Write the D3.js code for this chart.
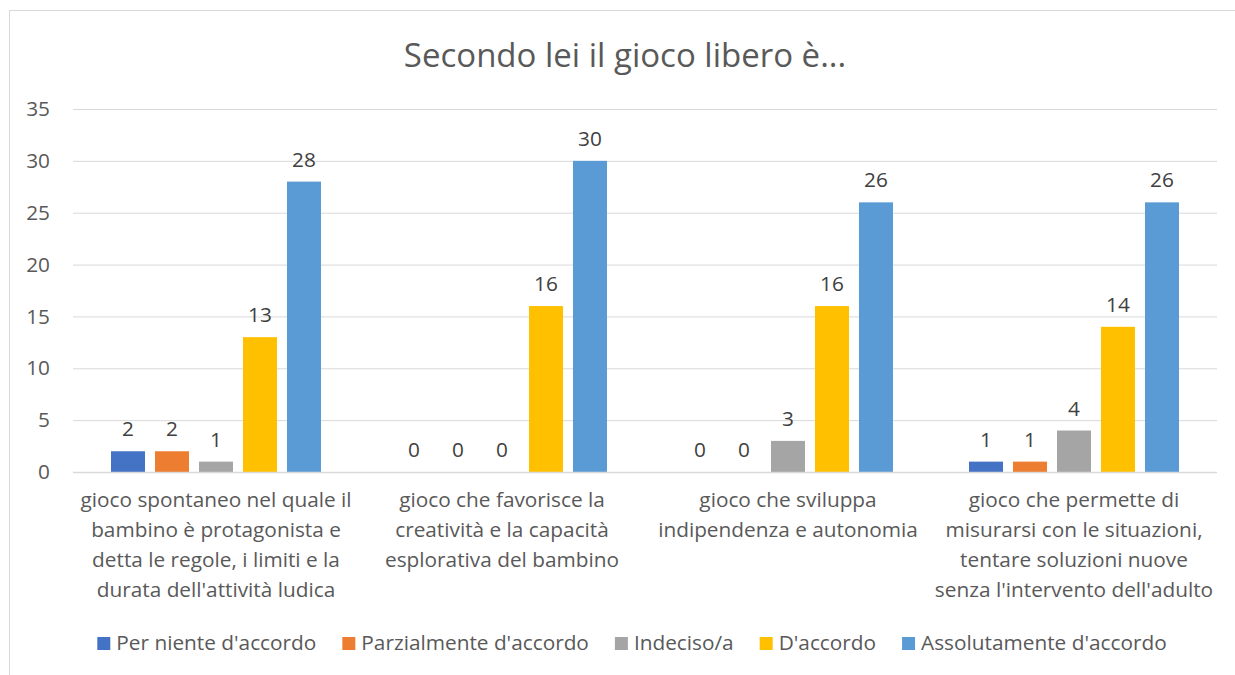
<!DOCTYPE html>
<html>
<head>
<meta charset="utf-8">
<script src="https://cdn.jsdelivr.net/npm/d3@7"></script>
<style>
	body { margin: 0; background: #fff; }
	text { font-family: "Open Sans", sans-serif; fill: #595959; }
</style>
</head>
<body>
<div id="viz"></div>
<script>
var title = "Secondo lei il gioco libero è...";

var categories = [
	["gioco spontaneo nel quale il", "bambino è protagonista e", "detta le regole, i limiti e la", "durata dell'attività ludica"],
	["gioco che favorisce la", "creatività e la capacità", "esplorativa del bambino"],
	["gioco che sviluppa", "indipendenza e autonomia"],
	["gioco che permette di", "misurarsi con le situazioni,", "tentare soluzioni nuove", "senza l'intervento dell'adulto"]
];

var seriesNames = ["Per niente d'accordo", "Parzialmente d'accordo", "Indeciso/a", "D'accordo", "Assolutamente d'accordo"];
var seriesColors = ["#4472C4", "#ED7D31", "#A5A5A5", "#FFC000", "#5B9BD5"];

// one array per series, in category order
var perNiente = [2, 0, 0, 1];
var parzialmente = [2, 0, 0, 1];
var indeciso = [1, 0, 3, 4];
var daccordo = [13, 16, 16, 14];
var assolutamente = [28, 30, 26, 26];

var yTicks = [0, 5, 10, 15, 20, 25, 30, 35];

buildViz();

function buildViz(){

	var width = 1235,
			height = 675,
			plotLeft = 73,
			plotRight = 1217,
			plotTop = 109,
			plotBottom = 472,
			fontSize = '20.8px';

	var seriesValues = [perNiente, parzialmente, indeciso, daccordo, assolutamente];

	var svg = d3.select('#viz')
		.append('svg')
		.attr('width', width)
		.attr('height', height);

	// chart frame (only left and top visible in the picture)
	svg.append('rect')
		.attr('x', 9.5)
		.attr('y', 10.5)
		.attr('width', width + 20)
		.attr('height', height + 20)
		.style('fill', 'none')
		.style('stroke', '#d9d9d9');

	svg.append('text')
		.attr('x', 625)
		.attr('y', 67)
		.attr('text-anchor', 'middle')
		.style('font-size', '33px')
		.text(title);

	var x0 = d3.scaleBand()
		.domain(d3.range(categories.length))
		.range([plotLeft, plotRight])
		.padding(0);

	var groupPad = 38;
	var x1 = d3.scaleBand()
		.domain(d3.range(seriesNames.length))
		.range([groupPad, x0.bandwidth() - groupPad])
		.paddingInner(0.227)
		.paddingOuter(0);

	var y = d3.scaleLinear()
		.domain([0, 35])
		.range([plotBottom, plotTop]);

	// gridlines + y labels
	var yAxis = svg.append('g')
		.attr('transform', 'translate(' + plotLeft + ',0)')
		.call(d3.axisLeft(y).tickValues(yTicks).tickSize(-(plotRight - plotLeft)).tickPadding(23));

	yAxis.select('.domain').remove();
	yAxis.selectAll('.tick line').style('stroke', '#d9d9d9');
	yAxis.selectAll('.tick text')
		.style('font-size', fontSize)
		.style('font-family', '"Open Sans", sans-serif')
		.attr('fill', '#595959');

	// bars
	var groups = svg.selectAll('.cat-group')
		.data(categories)
		.enter().append('g')
			.attr('class', 'cat-group')
			.attr('transform', function(d,i){ return 'translate(' + x0(i) + ',0)'; });

	groups.selectAll('.bar')
		.data(function(d,i){ return seriesValues.map(function(s,j){ return {s: j, v: s[i]}; }); })
		.enter().append('rect')
			.attr('class', 'bar')
			.attr('x', function(d){ return x1(d.s); })
			.attr('y', function(d){ return y(d.v); })
			.attr('width', x1.bandwidth())
			.attr('height', function(d){ return y(0) - y(d.v); })
			.style('fill', function(d){ return seriesColors[d.s]; });

	groups.selectAll('.bar-label')
		.data(function(d,i){ return seriesValues.map(function(s,j){ return {s: j, v: s[i]}; }); })
		.enter().append('text')
			.attr('class', 'bar-label')
			.attr('x', function(d){ return x1(d.s) + x1.bandwidth()/2; })
			.attr('y', function(d){ return y(d.v) - 15; })
			.attr('text-anchor', 'middle')
			.style('font-size', fontSize)
			.style('fill', '#404040')
			.text(function(d){ return d.v; });

	// x axis line
	svg.append('line')
		.attr('x1', plotLeft)
		.attr('x2', plotRight)
		.attr('y1', y(0) + 0.5)
		.attr('y2', y(0) + 0.5)
		.style('stroke', '#d9d9d9')
		.style('stroke-width', 1.5);

	// category labels
	var catLabels = svg.selectAll('.cat-label')
		.data(categories)
		.enter().append('text')
			.attr('class', 'cat-label')
			.attr('text-anchor', 'middle')
			.style('font-size', fontSize);

	catLabels.selectAll('tspan')
		.data(function(d,i){ return d.map(function(line){ return {line: line, i: i}; }); })
		.enter().append('tspan')
			.attr('x', function(d){ return x0(d.i) + x0.bandwidth()/2; })
			.attr('y', function(d,k){ return 507 + k*30; })
			.text(function(d){ return d.line; });

	// legend
	var legend = svg.append('g')
		.attr('transform', 'translate(0,650)');

	var items = legend.selectAll('.legend-item')
		.data(seriesNames)
		.enter().append('g')
			.attr('class', 'legend-item');

	items.append('rect')
		.attr('width', 13)
		.attr('height', 13)
		.attr('y', -13)
		.style('fill', function(d,i){ return seriesColors[i]; });

	items.append('text')
		.attr('x', 19)
		.style('font-size', fontSize)
		.text(function(d){ return d; });

	var widths = [];
	items.each(function(){ widths.push(this.getBBox().width); });
	var gap = 26;
	var total = d3.sum(widths) + gap*(widths.length - 1);
	var start = 632 - total/2, pos = start;
	items.attr('transform', function(d,i){
		var t = 'translate(' + pos + ',0)';
		pos += widths[i] + gap;
		return t;
	});
}
</script>
</body>
</html>
